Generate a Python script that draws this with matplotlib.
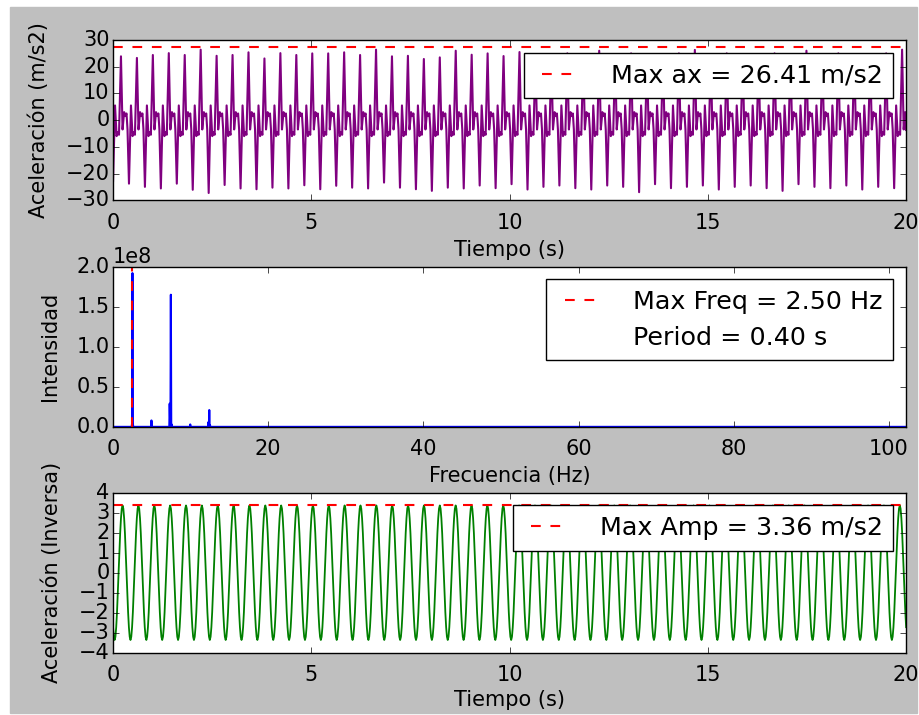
import numpy as np
import matplotlib
matplotlib.use("Agg")
import matplotlib.pyplot as plt
from matplotlib.patches import Rectangle

# --- datos ---
periodo = 0.402          # s, separacion entre ciclos de la senal medida
# picos y valles de cada ciclo (m/s2), 50 ciclos
picos = [23.9, 23.3, 24.4, 25.1, 24.4, 26.4, 24.1, 24.4, 25.4, 23.1,
         25.1, 24.4, 25.0, 25.0, 25.4, 24.4, 26.4, 23.9, 24.1, 22.9,
         23.5, 26.0, 24.5, 25.0, 24.0, 25.5, 24.0, 23.5, 25.0, 24.5,
         26.0, 24.0, 25.0, 23.5, 24.5, 25.0, 26.3, 24.0, 25.0, 24.5,
         23.0, 25.0, 24.5, 26.0, 24.0, 25.0, 24.5, 23.5, 25.0, 26.4]
valles = [-22.8, -23.8, -25.0, -25.6, -23.8, -26.1, -27.3, -24.3, -25.6, -25.9,
          -25.3, -25.6, -24.4, -25.9, -24.6, -25.3, -25.6, -23.4, -25.3, -25.9,
          -26.5, -25.3, -25.6, -24.5, -25.5, -24.0, -26.0, -25.0, -24.5, -25.5,
          -26.0, -24.5, -25.0, -27.0, -24.0, -25.5, -25.0, -24.5, -26.0, -25.0,
          -24.5, -25.5, -26.5, -24.0, -25.0, -25.5, -24.5, -26.0, -25.0, -25.5]
# forma intermedia de un ciclo (desfase en s desde el valle, valor m/s2)
ciclo_t = [0.0, 0.05, 0.09, 0.125, 0.15, 0.20, 0.24, 0.28, 0.31, 0.34, 0.365]
ciclo_v = [None, 5.5, -6.0, -4.5, -5.5, None, -3.5, 3.0, 1.5, 2.5, -3.5]
max_ax = 26.41
linea_max_ax = 27.3

# espectro: frecuencias (Hz) e intensidades de los picos
f_max = 102.2
pico_f = [2.45, 2.50, 2.55, 4.97, 7.30, 7.35, 7.46, 7.55, 9.95, 12.30, 12.42, 12.50]
pico_i = [0.04e8, 1.92e8, 0.05e8, 0.08e8, 0.29e8, 0.10e8, 1.65e8, 0.03e8,
          0.03e8, 0.06e8, 0.21e8, 0.02e8]
max_freq = 2.50
period = 0.40

# senal inversa: un ciclo de 0.4 s muestreado cada 0.02 s
inv_dt = 0.02
inv_ciclo = [-2.72, -3.20, -3.36, -3.20, -2.72, -1.98, -1.04, 0.00, 1.04, 1.98,
             2.72, 3.20, 3.36, 3.20, 2.72, 1.98, 1.04, 0.00, -1.04, -1.98]
n_ciclos = 50
max_amp = 3.36

# --- construir series ---
t_ax, v_ax = [], []
for k in range(n_ciclos):
    for dt, v in zip(ciclo_t, ciclo_v):
        t = k * periodo + dt
        if t > 20:
            break
        if dt == 0.0:
            v = valles[k]
        elif dt == 0.20:
            v = picos[k]
        t_ax.append(t)
        v_ax.append(v)
t_ax.append(20.0)
v_ax.append(-3.7)

freqs = np.linspace(0, f_max, 2045)
inten = np.zeros_like(freqs)
for f, i in zip(pico_f, pico_i):
    inten[np.argmin(abs(freqs - f))] = i

t_inv = np.arange(len(inv_ciclo) * n_ciclos + 1) * inv_dt
v_inv = np.array(inv_ciclo * n_ciclos + [inv_ciclo[0]])

# --- figura ---
plt.style.use('classic')
fig = plt.figure(figsize=(9.19, 7.15), facecolor='white')
fig.patches.append(Rectangle((10 / 919, 2 / 715), 907 / 919, 706 / 715,
                             transform=fig.transFigure, color='0.75', zorder=-1))

izq, ancho = 0.123, 0.863
ax1 = fig.add_axes([izq, 0.720, ancho, 0.224])
ax2 = fig.add_axes([izq, 0.403, ancho, 0.224])
ax3 = fig.add_axes([izq, 0.087, ancho, 0.224])

tick_fs = 15
lab_fs = 15
leg_fs = 18.3
dash = (0, (7, 7))
leg_kw = dict(loc='upper right', fontsize=leg_fs, borderpad=0.42,
              handlelength=2.1, handletextpad=0.9, labelspacing=0.45)

ax1.plot(t_ax, v_ax, color='purple', lw=1.5)
ax1.axhline(linea_max_ax, color='r', lw=1.5, linestyle=dash,
            label='Max ax = %.2f m/s2' % max_ax)
ax1.set_xlim(0, 20)
ax1.set_ylim(-30, 30)
ax1.set_xlabel('Tiempo (s)', fontsize=lab_fs, labelpad=5)
ax1.set_ylabel('Aceleración (m/s2)', fontsize=lab_fs)
ax1.legend(**leg_kw)

ax2.plot(freqs, inten, color='b', lw=1.5)
ax2.axvline(max_freq, color='r', lw=1.5, linestyle=dash,
            label='Max Freq = %.2f Hz' % max_freq)
ax2.plot([], [], ' ', label='Period = %.2f s' % period)
ax2.set_xlim(0, f_max)
ax2.set_ylim(0, 2e8)
ax2.set_xlabel('Frecuencia (Hz)', fontsize=lab_fs, labelpad=5)
ax2.set_ylabel('Intensidad', fontsize=lab_fs)
ax2.legend(**leg_kw)
ax2.yaxis.get_offset_text().set_fontsize(tick_fs)

ax3.plot(t_inv, v_inv, color='g', lw=1.3)
ax3.axhline(max_amp, color='r', lw=1.5, linestyle=dash,
            label='Max Amp = %.2f m/s2' % max_amp)
ax3.set_xlim(0, 20)
ax3.set_ylim(-4, 4)
ax3.set_yticks(range(-4, 5))
ax3.set_xlabel('Tiempo (s)', fontsize=lab_fs, labelpad=3.5)
ax3.set_ylabel('Aceleración (Inversa)', fontsize=lab_fs)
ax3.legend(**leg_kw)

for ax in (ax1, ax2, ax3):
    ax.tick_params(labelsize=tick_fs)
    ax.tick_params(axis='x', pad=9)
    ax.tick_params(axis='y', pad=2.5)

# posicion de las etiquetas del eje y (borde derecho del texto)
ax1.yaxis.set_label_coords(-0.0813, 0.5)
ax2.yaxis.set_label_coords(-0.0668, 0.5)
ax3.yaxis.set_label_coords(-0.0639, 0.5)

fig.savefig('out.png', dpi=100, facecolor=fig.get_facecolor())
